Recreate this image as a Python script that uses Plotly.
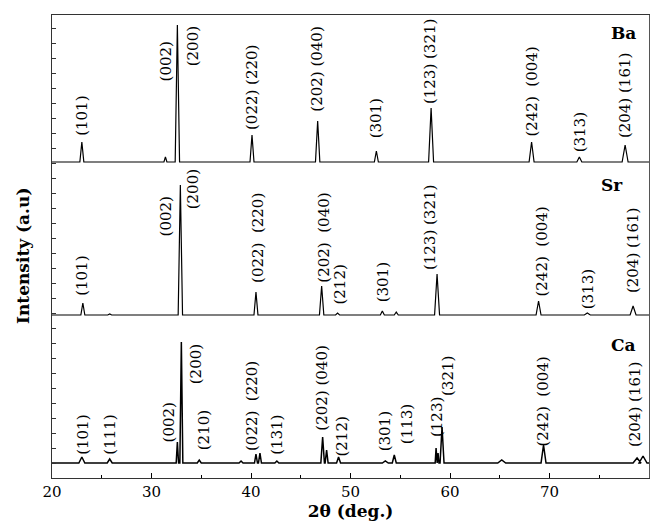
import plotly.graph_objects as go

# ---------------- data ----------------
# peak positions (2theta, deg) and peak heights above each pattern's baseline (a.u.)
ba_pos = [23.0, 31.4, 32.6, 40.1, 46.7, 52.6, 58.1, 68.2, 73.0, 77.6]
ba_int = [20, 5, 137, 27, 41, 11, 54, 20, 5, 17]
ba_wid = [0.2, 0.15, 0.22, 0.2, 0.22, 0.2, 0.25, 0.25, 0.25, 0.3]

sr_pos = [23.1, 25.8, 32.9, 40.5, 47.1, 48.7, 53.2, 54.6, 58.7, 68.9, 73.8, 78.4]
sr_int = [12, 1, 130, 23, 29, 2, 4, 3, 41, 14, 2, 9]
sr_wid = [0.2, 0.2, 0.22, 0.2, 0.22, 0.2, 0.2, 0.2, 0.25, 0.25, 0.3, 0.3]

ca_pos = [23.0, 25.8, 32.6, 33.0, 34.8, 39.0, 40.5, 40.9, 42.6, 47.2, 47.6,
          48.8, 53.5, 54.4, 58.6, 58.8, 59.2, 65.2, 69.4, 78.8, 79.4]
ca_int = [6, 4, 21, 121, 3, 2, 9, 10, 2, 26, 13,
          6, 2, 8, 15, 10, 36, 3, 18, 5, 7]
ca_wid = [0.3, 0.25, 0.12, 0.15, 0.2, 0.2, 0.15, 0.15, 0.2, 0.18, 0.15,
          0.2, 0.3, 0.2, 0.09, 0.09, 0.2, 0.4, 0.25, 0.4, 0.4]

ba_labels = ["(101)", "(002)", "(200)", "(022) (220)", "(202) (040)", "(301)",
             "(123) (321)", "(242)  (004)", "(313)", "(204) (161)"]
sr_labels = ["(101)", "(002)", "(200)", "(022)  (220)", "(202)  (040)", "(212)",
             "(301)", "(123) (321)", "(242)  (004)", "(313)", "(204) (161)"]
ca_labels = ["(101)", "(111)", "(002)", "(200)", "(210)", "(022)  (220)", "(131)",
             "(202) (040)", "(212)", "(301)", "(113)", "(123)", "(321)",
             "(242)  (004)", "(204) (161)"]

samples = ["Ba", "Sr", "Ca"]
x_ticks = [20, 30, 40, 50, 60, 70, 80]

# ---------------- layout helpers ----------------
offsets = {"Ba": 316, "Sr": 163, "Ca": 15}

ba_lab_xy = [(23.0, 362), (31.5, 417), (34.2, 432), (40.1, 390), (46.6, 409),
             (52.6, 360), (58.0, 416), (68.2, 386), (73.1, 346), (77.6, 382)]
sr_lab_xy = [(23.0, 202), (31.5, 262), (34.2, 289), (40.7, 240), (47.3, 240),
             (48.9, 193), (53.3, 196), (58.0, 250), (69.2, 226), (73.9, 189),
             (78.4, 227)]
ca_lab_xy = [(23.1, 43), (25.8, 43), (31.8, 56), (34.5, 114), (35.3, 48),
             (40.1, 72), (42.6, 43), (47.1, 90), (49.1, 41), (53.5, 47),
             (55.7, 54), (58.7, 61), (59.8, 102), (69.3, 76), (78.6, 73)]
name_xy = {"Ba": (78.9, 445), "Sr": (77.6, 293), "Ca": (78.9, 133)}


def build(pos, inten, wid, off):
    xs, ys = [20.0], [off]
    for p, h, w in zip(pos, inten, wid):
        xs += [p - w, p, p + w]
        ys += [off, off + h, off]
    xs.append(80.0)
    ys.append(off)
    return xs, ys


fig = go.Figure()
for name, pos, inten, wid, lw in [("Ba", ba_pos, ba_int, ba_wid, 1.2),
                                  ("Sr", sr_pos, sr_int, sr_wid, 1.2),
                                  ("Ca", ca_pos, ca_int, ca_wid, 1.5)]:
    xs, ys = build(pos, inten, wid, offsets[name])
    fig.add_trace(go.Scatter(x=xs, y=ys, mode="lines", name=name,
                             line=dict(color="black", width=lw),
                             showlegend=False, hoverinfo="skip"))

# invisible trace for right axis
fig.add_trace(go.Scatter(x=[20], y=[0], yaxis="y2", mode="markers",
                         marker=dict(opacity=0), showlegend=False, hoverinfo="skip"))

FONT = "DejaVu Serif, Liberation Serif, serif"
annotations = []
for labels, xy in [(ba_labels, ba_lab_xy), (sr_labels, sr_lab_xy), (ca_labels, ca_lab_xy)]:
    for t, (x, y) in zip(labels, xy):
        annotations.append(dict(x=x, y=y, text=t, textangle=-90, showarrow=False,
                                xanchor="center", yanchor="middle",
                                font=dict(family=FONT, size=15, color="black")))
for s in samples:
    x, y = name_xy[s]
    annotations.append(dict(x=x, y=y, text="<b>%s</b>" % s, showarrow=False,
                            xanchor="right", yanchor="middle",
                            font=dict(family=FONT, size=17, color="black")))
# y-axis title as an annotation (placed slightly below centre, as in the reference)
annotations.append(dict(xref="paper", yref="paper", x=-0.0486, y=0.4795,
                        text="<b>Intensity (a.u)</b>", textangle=-90, showarrow=False,
                        xanchor="center", yanchor="middle",
                        font=dict(family=FONT, size=17, color="black")))

# page body has an 8px margin, so the figure is 8px smaller and margins shifted
fig.update_layout(
    width=650, height=522,
    margin=dict(l=44, r=9, t=7, b=52, autoexpand=False),
    paper_bgcolor="white", plot_bgcolor="white",
    font=dict(family=FONT, size=15, color="black"),
    annotations=annotations,
    xaxis=dict(range=[20, 80], tickvals=x_ticks, ticks="inside", ticklen=5,
               tickcolor="black", showline=True, linecolor="#333", linewidth=1.2,
               mirror=True, showgrid=False, zeroline=False, automargin=False,
               tickfont=dict(family=FONT, size=15), ticklabelstandoff=0,
               minor=dict(dtick=5, tick0=20, ticks="inside", ticklen=3, tickcolor="black"),
               title=dict(text="<b>2θ (deg.)</b>", font=dict(family=FONT, size=17),
                          standoff=1)),
    yaxis=dict(range=[0, 463], dtick=15, tick0=0, ticks="inside", ticklen=4,
               tickcolor="#333", showticklabels=False, showline=True,
               linecolor="#333", linewidth=1.2, showgrid=False, zeroline=False,
               automargin=False),
    yaxis2=dict(range=[0, 463], dtick=15, tick0=0, overlaying="y", side="right",
                ticks="outside", ticklen=3, tickcolor="#555", showticklabels=False,
                showline=True, linecolor="#555", linewidth=1, showgrid=False,
                zeroline=False, automargin=False),
)

fig.write_html("out.html")
